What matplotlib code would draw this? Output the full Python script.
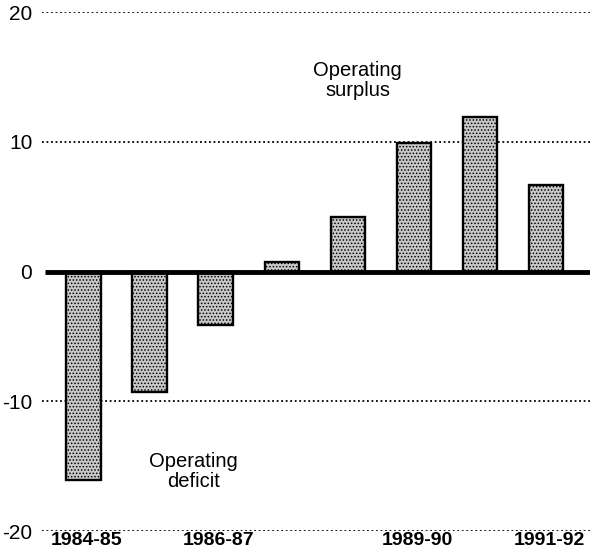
import numpy as np
import matplotlib.pyplot as plt

years = ['1984-85', '1985-86', '1986-87', '1987-88', '1988-89', '1989-90', '1990-91', '1991-92']
balance = [-16.1, -9.3, -4.1, 0.7, 4.2, 9.9, 11.9, 6.7]
shown_labels = ['1984-85', '', '1986-87', '', '', '1989-90', '', '1991-92']
yticks = [-20, -10, 0, 10, 20]

plt.rcParams['font.family'] = ['Liberation Sans', 'DejaVu Sans']
plt.rcParams['hatch.color'] = '#7a7a7a'
plt.rcParams['hatch.linewidth'] = 0.7

fig = plt.figure(figsize=(5.95, 5.55), dpi=100)
ax = fig.add_axes([0.0706, 0.0432, 0.921, 0.935])

x = np.arange(len(years))
ax.bar(x, balance, width=0.52, color='#c8c8c8', edgecolor='black', linewidth=1.7,
       hatch='.....', zorder=3)

# dotted reference lines, solid zero line
for v in [20, 10, -10, -20]:
    ax.axhline(v, color='black', linestyle=(0, (1, 1.5)), linewidth=1.3, zorder=1)
ax.plot([-0.58, 7.67], [0, 0], color='black', linewidth=3.5, zorder=4, solid_capstyle='butt')

ax.set_xlim(-0.63, 7.67)
ax.set_ylim(-20, 20)
ax.set_yticks(yticks)
ax.set_yticklabels([str(t) for t in yticks], fontsize=15)
ax.set_xticks(x + 0.05)
ax.set_xticklabels(shown_labels, fontsize=14, fontweight='bold')
ax.tick_params(length=0)
ax.tick_params(axis='y', pad=7)
ax.tick_params(axis='x', pad=1)
for s in ax.spines.values():
    s.set_visible(False)

ax.text(4.15, 14.7, 'Operating\nsurplus', ha='center', va='center', fontsize=14.5, linespacing=1.05)
ax.text(1.66, -15.4, 'Operating\ndeficit', ha='center', va='center', fontsize=14.5, linespacing=1.05)

fig.savefig('out.png', dpi=100)
